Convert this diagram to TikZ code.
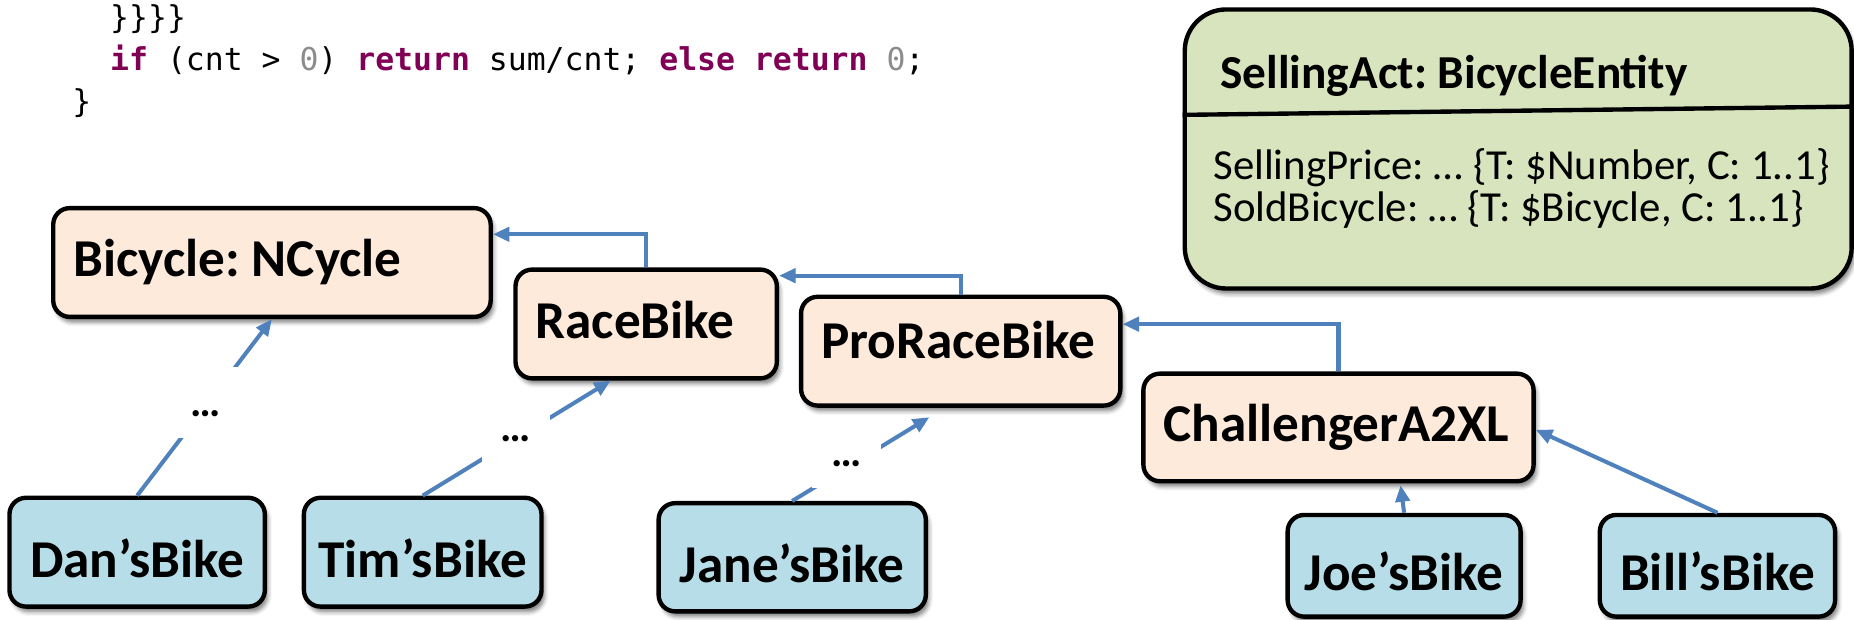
\documentclass[tikz,border=0pt]{standalone}
\usepackage{fontspec}
\setmainfont{Carlito}
\newfontfamily\codefont{DejaVu Sans Mono}
\usetikzlibrary{arrows.meta,shadows.blur}
\frenchspacing

\definecolor{peach}{HTML}{FDEADA}
\definecolor{skyfill}{HTML}{B7DEE8}
\definecolor{sage}{HTML}{D7E4BD}
\definecolor{linkblue}{HTML}{4F81BD}
\definecolor{kwcolor}{HTML}{7F0055}
\definecolor{numcolor}{HTML}{8C8C8C}

\newcommand{\codekw}[1]{\textcolor{kwcolor}{\bfseries #1}}
\newcommand{\codenum}[1]{\textcolor{numcolor}{#1}}

\tikzset{
  softshadow/.style={blur shadow={shadow xshift=2.5pt, shadow yshift=-4.5pt,
      shadow blur radius=3.5pt, shadow opacity=50}},
  classbox/.style={draw=black, line width=3.7pt, rounded corners=14pt, fill=peach,
      softshadow, font=\bfseries\fontsize{45}{50}\selectfont,
      inner xsep=17pt, inner ysep=0pt, align=flush left,
      text height=34pt, text depth=10pt},
  objbox/.style={draw=black, line width=3.7pt, rounded corners=14pt, fill=skyfill,
      softshadow, font=\bfseries\fontsize{45}{50}\selectfont,
      inner sep=0pt, align=center, text height=42pt, text depth=0pt},
  sellbox/.style={draw=black, line width=3.7pt, rounded corners=35pt, fill=sage,
      softshadow},
  link/.style={draw=linkblue, line width=3.4pt, -{Triangle[length=14pt,width=12pt]}},
  gap/.style={fill=white, inner sep=0pt, minimum width=58pt, anchor=base,
      text height=42pt, text depth=18.5pt, font=\bfseries\fontsize{36}{40}\selectfont},
  code/.style={anchor=base west, inner sep=0pt, font=\codefont\fontsize{26.6}{30}\selectfont},
  attr/.style={anchor=base west, inner sep=0pt, font=\fontsize{36.2}{40}\selectfont},
}

\begin{document}
\begin{tikzpicture}[x=1pt,y=-1pt]
\useasboundingbox (0,0) rectangle (1568,524);

% tail of a code listing
\node[code] (code1) at (93,24.5) {\}\}\}\}};
\node[code] (code2) at (93,60) {\codekw{if} (cnt > \codenum{0}) \codekw{return} sum/cnt; \codekw{else} \codekw{return} \codenum{0};};
\node[code] (code3) at (61,95.5) {\}};

% entity with its attributes
\node[sellbox, minimum width=564pt, minimum height=236pt] (sell) at (1284,126) {};
\node[anchor=base west, inner sep=0pt, font=\bfseries\fontsize{40}{44}\selectfont]
  (selltitle) at (1032,75) {SellingAct: BicycleEntity};
\draw[line width=3.7pt] ([yshift=-91pt]sell.north west) -- ([yshift=-84pt]sell.north east);
\node[attr] (price) at (1026,152) {SellingPrice: … \{T: \$Number, C: 1..1\}};
\node[attr] (sold) at (1026,187) {SoldBicycle: … \{T: \$Bicycle, C: 1..1\}};

% class hierarchy
\node[classbox, minimum width=370pt, minimum height=92pt, text width=336pt] (bic) at (230,222) {Bicycle: NCycle};
\node[classbox, minimum width=221pt, minimum height=92pt, text width=187pt] (race) at (546.5,274) {RaceBike};
\node[classbox, minimum width=270pt, minimum height=92pt, text width=236pt, text depth=22pt] (pro) at (812.5,297) {ProRaceBike};
\node[classbox, minimum width=330pt, minimum height=91pt, text width=296pt] (chal) at (1132,361.5) {ChallengerA2XL};

% individual bikes
\node[objbox, minimum width=216pt, minimum height=92pt] (dan) at (116,467) {Dan’sBike};
\node[objbox, minimum width=201pt, minimum height=92pt] (tim) at (357.5,467) {Tim’sBike};
\node[objbox, minimum width=226pt, minimum height=91.5pt] (jane) at (670,471.3) {Jane’sBike};
\node[objbox, minimum width=197pt, minimum height=86pt] (joe) at (1187.5,478.5) {Joe’sBike};
\node[objbox, minimum width=199pt, minimum height=86pt] (bill) at (1452.5,478.5) {Bill’sBike};

% specialisation links
\draw[link] (race.north) |- ([yshift=-24pt]bic.north east);
\draw[link] (pro.north) |- ([yshift=-7pt]race.north east);
\draw[link] (chal.north) |- ([yshift=-25pt]pro.north east);

% instance links
\draw[link] (dan.north) -- (bic.south);
\draw[link] (tim.north) -- ([xshift=-30pt]race.south);
\draw[link] (jane.north) -- ([xshift=-26.5pt,yshift=-8pt]pro.south);
\draw[link] (joe.north) -- ([xshift=52.5pt,yshift=-1.5pt]chal.south);
\draw[link] (bill.north) -- ([yshift=-2pt]chal.east);

% elided intermediate levels
\node[gap] (gapdan) at (174,352) {…};
\node[gap] (gaptim) at (436.5,373.5) {…};
\node[gap] (gapjane) at (716,394.4) {…};
\end{tikzpicture}
\end{document}
